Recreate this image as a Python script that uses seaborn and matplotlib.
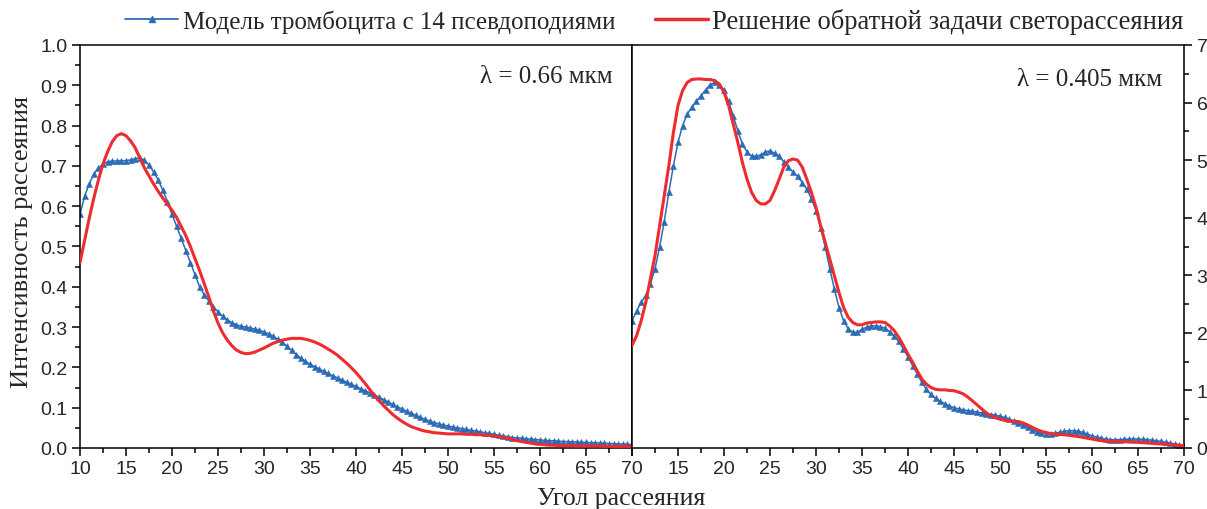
import numpy as np
import pandas as pd
import matplotlib
matplotlib.use("Agg")
import matplotlib.pyplot as plt
import seaborn as sns
from matplotlib.ticker import MultipleLocator, FuncFormatter
from matplotlib.lines import Line2D

# ---------------- data ----------------
theta = np.arange(10, 70.01, 0.5)

model_066 = [
    0.58, 0.625, 0.655, 0.68, 0.695, 0.705, 0.71, 0.712, 0.712, 0.713,
    0.713, 0.715, 0.718, 0.72, 0.714, 0.702, 0.685, 0.665, 0.64, 0.61,
    0.58, 0.55, 0.52, 0.49, 0.46, 0.43, 0.40, 0.38, 0.365, 0.35,
    0.338, 0.327, 0.318, 0.311, 0.306, 0.302, 0.30, 0.298, 0.295, 0.292,
    0.288, 0.283, 0.277, 0.27, 0.262, 0.252, 0.242, 0.232, 0.223, 0.215,
    0.208, 0.202, 0.196, 0.19, 0.185, 0.179, 0.174, 0.168, 0.163, 0.158,
    0.153, 0.147, 0.142, 0.137, 0.132, 0.126, 0.12, 0.114, 0.108, 0.102,
    0.097, 0.091, 0.086, 0.081, 0.076, 0.071, 0.067, 0.063, 0.06, 0.057,
    0.054, 0.052, 0.05, 0.048, 0.046, 0.044, 0.042, 0.04, 0.038, 0.036,
    0.034, 0.032, 0.03, 0.028, 0.026, 0.025, 0.024, 0.023, 0.022, 0.021,
    0.02, 0.019, 0.018, 0.018, 0.017, 0.016, 0.016, 0.015, 0.015, 0.014,
    0.014, 0.013, 0.013, 0.012, 0.012, 0.011, 0.011, 0.01, 0.01, 0.009,
    0.009,
]

fit_066 = [
    0.46, 0.515, 0.57, 0.62, 0.665, 0.705, 0.735, 0.76, 0.775, 0.78,
    0.775, 0.762, 0.745, 0.72, 0.695, 0.675, 0.655, 0.637, 0.62, 0.605,
    0.59, 0.572, 0.55, 0.527, 0.50, 0.47, 0.44, 0.408, 0.375, 0.34,
    0.31, 0.286, 0.268, 0.254, 0.243, 0.237, 0.234, 0.235, 0.238, 0.243,
    0.248, 0.254, 0.26, 0.264, 0.268, 0.27, 0.272, 0.272, 0.272, 0.27,
    0.267, 0.263, 0.258, 0.252, 0.245, 0.238, 0.23, 0.22, 0.21, 0.199,
    0.187, 0.174, 0.16, 0.145, 0.13, 0.117, 0.105, 0.094, 0.083, 0.074,
    0.066, 0.059, 0.053, 0.049, 0.045, 0.042, 0.04, 0.038, 0.037, 0.036,
    0.035, 0.035, 0.035, 0.035, 0.034, 0.034, 0.033, 0.033, 0.032, 0.031,
    0.03, 0.028, 0.026, 0.024, 0.021, 0.018, 0.016, 0.014, 0.012, 0.01,
    0.009, 0.008, 0.007, 0.007, 0.006, 0.006, 0.006, 0.006, 0.005, 0.005,
    0.005, 0.005, 0.005, 0.005, 0.004, 0.004, 0.004, 0.004, 0.004, 0.004,
    0.004,
]

model_0405 = [
    2.21, 2.38, 2.53, 2.65, 2.85, 3.11, 3.49, 3.93, 4.44, 4.90,
    5.31, 5.60, 5.80, 5.92, 6.02, 6.12, 6.22, 6.31, 6.35, 6.31,
    6.21, 6.02, 5.77, 5.51, 5.28, 5.14, 5.07, 5.07, 5.09, 5.14,
    5.16, 5.12, 5.07, 4.97, 4.88, 4.79, 4.72, 4.61, 4.50, 4.33,
    4.12, 3.83, 3.49, 3.11, 2.76, 2.44, 2.21, 2.07, 2.01, 2.01,
    2.06, 2.10, 2.12, 2.12, 2.11, 2.08, 2.02, 1.95, 1.85, 1.72,
    1.58, 1.43, 1.29, 1.14, 1.02, 0.93, 0.86, 0.81, 0.77, 0.73,
    0.70, 0.68, 0.66, 0.65, 0.64, 0.62, 0.61, 0.59, 0.58, 0.57,
    0.55, 0.53, 0.50, 0.465, 0.43, 0.395, 0.36, 0.32, 0.285, 0.26,
    0.245, 0.25, 0.26, 0.275, 0.29, 0.30, 0.30, 0.29, 0.27, 0.24,
    0.21, 0.19, 0.17, 0.155, 0.145, 0.145, 0.145, 0.15, 0.155, 0.156,
    0.156, 0.15, 0.145, 0.135, 0.127, 0.115, 0.10, 0.085, 0.07, 0.055,
    0.04,
]

fit_0405 = [
    1.78, 1.95, 2.21, 2.53, 2.94, 3.34, 3.86, 4.38, 4.90, 5.48,
    5.95, 6.21, 6.35, 6.40, 6.41, 6.41, 6.40, 6.40, 6.38, 6.32,
    6.18, 5.95, 5.63, 5.31, 4.96, 4.67, 4.44, 4.30, 4.24, 4.24,
    4.30, 4.47, 4.67, 4.88, 4.99, 5.02, 5.00, 4.88, 4.67, 4.44,
    4.18, 3.86, 3.57, 3.28, 2.99, 2.70, 2.44, 2.27, 2.18, 2.14,
    2.14, 2.17, 2.18, 2.19, 2.19, 2.18, 2.12, 2.04, 1.92, 1.78,
    1.63, 1.49, 1.34, 1.20, 1.11, 1.05, 1.02, 1.01, 1.01, 1.00,
    0.995, 0.97, 0.94, 0.885, 0.82, 0.75, 0.68, 0.61, 0.56, 0.525,
    0.50, 0.48, 0.47, 0.465, 0.46, 0.435, 0.40, 0.36, 0.32, 0.29,
    0.27, 0.25, 0.24, 0.235, 0.23, 0.22, 0.21, 0.20, 0.185, 0.17,
    0.156, 0.14, 0.127, 0.12, 0.115, 0.115, 0.115, 0.11, 0.104, 0.10,
    0.098, 0.092, 0.087, 0.081, 0.075, 0.07, 0.064, 0.058, 0.052, 0.046,
    0.04,
]

label_model = "Модель тромбоцита с 14 псевдоподиями"
label_fit = "Решение обратной задачи светорассеяния"
x_label = "Угол рассеяния"
y_label = "Интенсивность рассеяния"
ann_left = "λ = 0.66 мкм"
ann_right = "λ = 0.405 мкм"

# ---------------- style ----------------
sns.set_style("ticks")
plt.rcParams['font.family'] = ['Liberation Sans', 'DejaVu Sans']
SERIF = ['Liberation Serif', 'DejaVu Serif']
BLUE = "#2C6BB5"
RED = "#EE2B2E"

W, H = 1207, 510
fig = plt.figure(figsize=(W / 100, H / 100), dpi=100)
axL = fig.add_axes([80 / W, 61 / H, 552 / W, 403 / H])
axR = fig.add_axes([632 / W, 61 / H, 552 / W, 403 / H])

def draw(ax, t, ym, yf):
    sns.lineplot(x=t, y=ym, ax=ax, color=BLUE, lw=1.1, marker='^',
                 markersize=5, markeredgewidth=0.4, markeredgecolor=BLUE,
                 sort=False, legend=False, zorder=2)
    sns.lineplot(x=t, y=yf, ax=ax, color=RED, lw=2.2, sort=False,
                 legend=False, zorder=3)

draw(axL, theta, model_066, fit_066)
draw(axR, theta, model_0405, fit_0405)

for ax in (axL, axR):
    ax.set_xlim(10, 70)
    ax.xaxis.set_major_locator(MultipleLocator(5))
    ax.xaxis.set_minor_locator(MultipleLocator(2.5))
    ax.set_xlabel("")
    ax.set_ylabel("")
    for s in ax.spines.values():
        s.set_visible(True)
        s.set_linewidth(1.1)
        s.set_color("black")
    ax.tick_params(axis='both', which='major', length=6, width=1.1,
                   direction='out', labelsize=14, color='black', pad=3)
    ax.tick_params(axis='both', which='minor', length=3.5, width=1.1,
                   direction='out', color='black')
    ax.tick_params(top=False, which='both')

axL.set_ylim(0, 1.0)
axL.yaxis.set_major_locator(MultipleLocator(0.1))
axL.yaxis.set_minor_locator(MultipleLocator(0.05))
axL.yaxis.set_major_formatter(FuncFormatter(lambda v, p: f"{v:.1f}"))
axL.tick_params(axis='y', which='both', left=True, right=False)

axR.set_ylim(0, 7)
axR.yaxis.set_major_locator(MultipleLocator(1))
axR.yaxis.set_minor_locator(MultipleLocator(0.5))
axR.yaxis.tick_right()
axR.tick_params(axis='y', which='both', left=False, right=True,
                labelleft=False, labelright=True)
axR.xaxis.set_major_formatter(FuncFormatter(lambda v, p: "" if abs(v - 10) < 1e-6 else f"{v:.0f}"))

axL.text(0.964, 0.923, ann_left, transform=axL.transAxes, ha='right',
         va='center', fontsize=18, family=SERIF)
axR.text(0.96, 0.916, ann_right, transform=axR.transAxes, ha='right',
         va='center', fontsize=18, family=SERIF)

fig.text(621 / W, 1 - 499 / H, x_label, ha='center', va='center',
         fontsize=18.5, family=SERIF)
fig.text(22 / W, 1 - 242 / H, y_label, ha='center', va='center',
         rotation=90, fontsize=19, family=SERIF)

handles = [
    Line2D([], [], color=BLUE, lw=1.3, marker='^', markersize=5),
    Line2D([], [], color=RED, lw=2.5),
]
leg = fig.legend(handles, [label_model, label_fit], loc='center left',
                 bbox_to_anchor=(125 / W, 1 - 22 / H), ncol=2, frameon=False,
                 numpoints=1, handlelength=2.12, handletextpad=0.2,
                 columnspacing=1.56, borderpad=0, borderaxespad=0,
                 prop={'family': SERIF, 'size': 18})
leg.get_texts()[1].set_fontsize(19.2)

fig.savefig("out.png", dpi=100)
